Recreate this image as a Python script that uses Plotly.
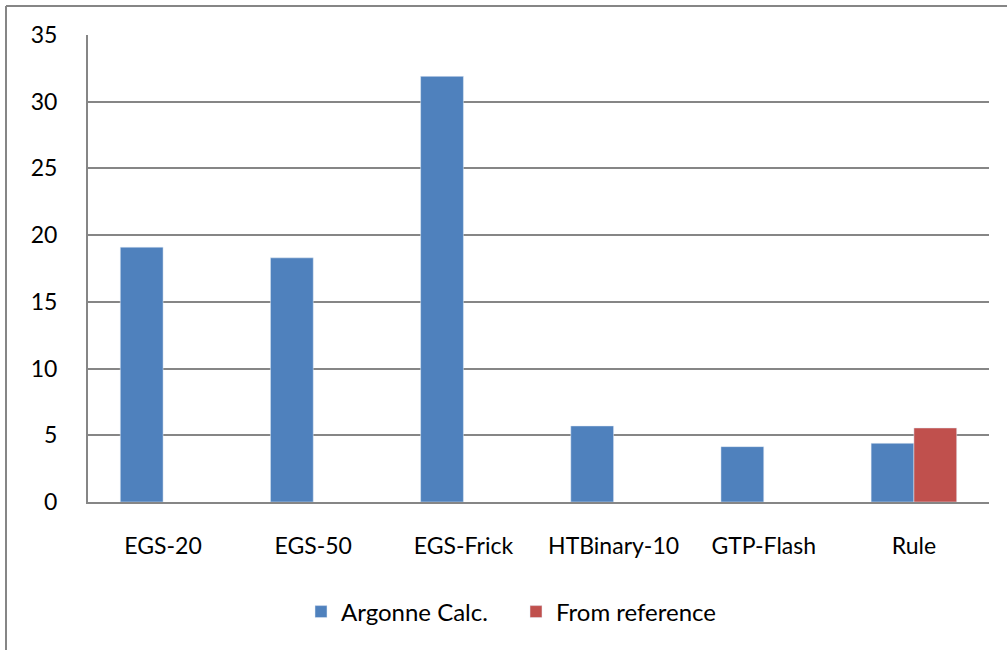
import plotly.graph_objects as go

# categories and the two series
categories = ["EGS-20", "EGS-50", "EGS-Frick", "HTBinary-10", "GTP-Flash", "Rule"]
argonne_calc = [19.1, 18.3, 31.9, 5.7, 4.15, 4.4]
from_reference = [None, None, None, None, None, 5.55]

W, H = 1007, 650
L, R, T, B = 88, 18, 35, 148

fig = go.Figure()
fig.add_trace(go.Bar(x=categories, y=argonne_calc, name="Argonne Calc.",
                     marker_color="#4F81BD"))
fig.add_trace(go.Bar(x=categories, y=from_reference, name="From reference",
                     marker_color="#C0504D"))

pw = W - L - R
ph = H - T - B

def px_x(p):
    return (p - L) / pw

def px_y(p):
    return (H - B - p) / ph

# outer chart frame (only top and left edges fall inside the picture)
frame = dict(color="#868686", width=2)
fig.add_shape(type="line", xref="paper", yref="paper",
              x0=px_x(6), x1=px_x(1020), y0=px_y(6), y1=px_y(6), line=frame)
fig.add_shape(type="line", xref="paper", yref="paper",
              x0=px_x(6), x1=px_x(6), y0=px_y(6), y1=px_y(660), line=frame)

fig.update_layout(
    width=W, height=H,
    margin=dict(l=L, r=R, t=T, b=B),
    paper_bgcolor="white", plot_bgcolor="white",
    barmode="group", bargap=0.43, bargroupgap=0,
    font=dict(family="Lato", size=23, color="black"),
    showlegend=True,
    legend=dict(orientation="h", x=px_x(516), xanchor="center",
                y=px_y(612), yanchor="middle", font=dict(size=24),
                itemwidth=30, entrywidth=170, traceorder="normal"),
)
fig.update_xaxes(showline=True, linecolor="#868686", linewidth=2,
                 showgrid=False, ticks="", ticklabelstandoff=22)
fig.update_yaxes(range=[0, 35], dtick=5, showline=True, linecolor="#868686",
                 linewidth=2, showgrid=True, gridcolor="#868686", gridwidth=1.5,
                 zeroline=False, ticks="", ticklabelstandoff=24)

# drop the page's default body margin so the figure sits at the window corner
fig.write_html("out.html", config={"displayModeBar": False},
               post_script="document.body.style.margin='0';")
